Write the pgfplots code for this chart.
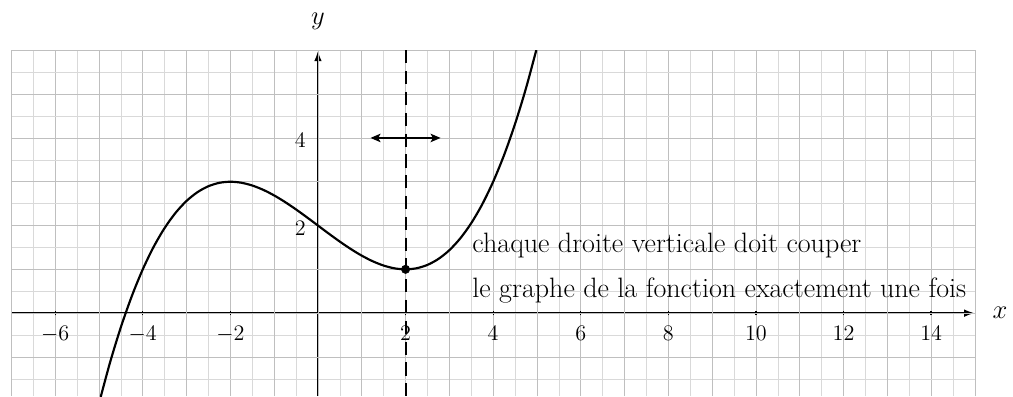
\documentclass[border=0pt]{standalone}
\usepackage{pgfplots}
\usepackage{pgfplotstable}
\pgfplotsset{compat=1.18}
\usetikzlibrary{arrows.meta}

% f(x) = x^3/16 - 3x/4 + 2 : maximum (-2,3), minimum (2,1)
\pgfplotstableread{
x      y
-5.00  -2.0625
-4.75  -1.1357
-4.50  -0.3203
-4.25   0.3896
-4.00   1.0000
-3.75   1.5166
-3.50   1.9453
-3.25   2.2920
-3.00   2.5625
-2.75   2.7627
-2.50   2.8984
-2.25   2.9756
-2.00   3.0000
-1.75   2.9775
-1.50   2.9141
-1.25   2.8154
-1.00   2.6875
-0.75   2.5361
-0.50   2.3672
-0.25   2.1865
 0.00   2.0000
 0.25   1.8135
 0.50   1.6328
 0.75   1.4639
 1.00   1.3125
 1.25   1.1846
 1.50   1.0859
 1.75   1.0225
 2.00   1.0000
 2.25   1.0244
 2.50   1.1016
 2.75   1.2373
 3.00   1.4375
 3.25   1.7080
 3.50   2.0547
 3.75   2.4834
 4.00   3.0000
 4.25   3.6104
 4.50   4.3203
 4.75   5.1357
 5.00   6.0625
}\courbe

\begin{document}
\begin{tikzpicture}
\useasboundingbox (-7.26,-1.895) rectangle (15.87,7.15);
\begin{axis}[
  x=1cm, y=1cm,
  anchor=origin, at={(0,0)},
  xmin=-7, xmax=15, ymin=-1.895, ymax=6,
  axis lines=middle,
  axis line style={line width=1.5pt, -{Latex[length=7pt,width=5pt]}},
  inner axis line style={line width=1.5pt},
  xtick={-6,-4,-2,2,4,6,8,10,12,14},
  ytick={2,4},
  minor xtick={-6.5,-5.5,...,14.5},
  minor ytick={-1.5,-0.5,...,5.5},
  extra x ticks={-7,-5,-3,-1,0,1,3,5,7,9,11,13,15},
  extra y ticks={-1,0,1,3,5,6},
  extra x tick labels={},
  extra y tick labels={},
  extra tick style={grid=major, major tick length=0pt},
  grid=both,
  major grid style={gray!50, line width=0.5pt},
  minor grid style={gray!30, line width=0.4pt},
  major tick length=3pt,
  minor tick length=0pt,
  tick style={black, line width=0.8pt},
  ytick style={draw=none},
  ticklabel style={font=\Large},
  xticklabel style={yshift=-0.12cm},
  yticklabel style={xshift=-0.1cm, yshift=-0.06cm},
  xlabel={$x$}, ylabel={$y$},
  label style={font=\LARGE},
  xlabel style={at={(rel axis cs:1.026,0.24)}, anchor=center},
  ylabel style={at={(rel axis cs:0.3182,1.0836)}, anchor=center},
]
\addplot[black, line width=1.3pt, dash pattern=on 0.3cm off 0.175cm] coordinates {(2,6) (2,-1.895)};
\addplot[black, line width=1.4pt, smooth] table {\courbe};
\addplot[black, only marks, mark=*, mark size=2.7pt] coordinates {(2,1)};
\draw[line width=1.1pt, {Stealth[length=6.5pt,width=5.5pt,inset=1.5pt]}-{Stealth[length=6.5pt,width=5.5pt,inset=1.5pt]}] (axis cs:1.2,4) -- (axis cs:2.8,4);
\node[anchor=base west, font=\fontsize{18.2}{21}\selectfont, inner sep=0pt] at (axis cs:3.52,1.39) {chaque droite verticale doit couper};
\node[anchor=base west, font=\fontsize{18.2}{21}\selectfont, inner sep=0pt] at (axis cs:3.52,0.365) {le graphe de la fonction exactement une fois};
\end{axis}
\end{tikzpicture}
\end{document}
